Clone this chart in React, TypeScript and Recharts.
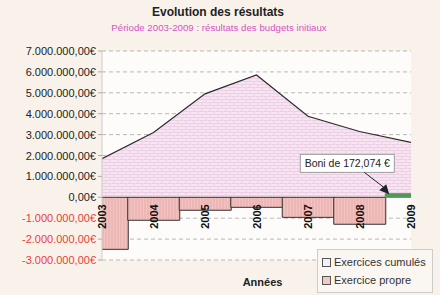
import {
  ComposedChart,
  Area,
  Bar,
  Cell,
  XAxis,
  YAxis,
  CartesianGrid,
  Legend,
  LabelList,
} from 'recharts';

const YEARS = [2003, 2004, 2005, 2006, 2007, 2008, 2009];
const CUMULES = [1850000, 3100000, 4950000, 5850000, 3880000, 3150000, 2630000];
const PROPRE = [-2490000, -1100000, -620000, -480000, -960000, -1290000, 172074];
const Y_TICKS = [-3000000, -2000000, -1000000, 0, 1000000, 2000000, 3000000, 4000000, 5000000, 6000000, 7000000];

const data = YEARS.map((year, i) => ({ year, cumules: CUMULES[i], propre: PROPRE[i] }));

const FONT = '"Liberation Sans", Arial, sans-serif';

function euro(v: number) {
  const s = Math.abs(Math.round(v)).toString().replace(/\B(?=(\d{3})+(?!\d))/g, '.');
  return (v < 0 ? '-' : '') + s + ',00€';
}

function YTick({ x, y, payload }: any) {
  const v = payload.value;
  return (
    <text x={x} y={y} dy={4} textAnchor="end" fontSize={11} fontFamily={FONT} fill={v < 0 ? '#ee3b3b' : '#222'}>
      {euro(v)}
    </text>
  );
}

function YearLabel(props: any) {
  const vb = props.viewBox || props;
  const cx = vb.x + vb.width / 2;
  const zero = vb.y + vb.height;
  return (
    <text
      transform={`translate(${cx + 4}, ${zero + 7}) rotate(-90)`}
      textAnchor="end"
      fontSize={11}
      fontWeight="bold"
      fontFamily={FONT}
      fill="#111"
    >
      {props.value}
    </text>
  );
}

function BoniLabel(props: any) {
  if (!(props.value > 0)) return null;
  const vb = props.viewBox || props;
  const zero = vb.y + vb.height;
  const bx = vb.x - 85;
  const by = zero - 43;
  return (
    <g>
      <rect x={bx} y={by} width={94} height={18} fill="#fff" stroke="#888" strokeWidth={0.8} />
      <text x={bx + 47} y={by + 13} textAnchor="middle" fontSize={10.5} fontFamily={FONT} fill="#222">
        Boni de 172,074 €
      </text>
      <line x1={bx + 64} y1={by + 18} x2={vb.x + 1} y2={zero - 8} stroke="#223" strokeWidth={1} />
      <polygon
        points={`${vb.x + 4},${zero - 3} ${vb.x - 6},${zero - 7} ${vb.x + 1},${zero - 13}`}
        fill="#1d2230"
      />
    </g>
  );
}

function LegendBox() {
  const items = [
    { label: 'Exercices cumulés', fill: '#f6eef6' },
    { label: 'Exercice propre', fill: '#f3c6c8' },
  ];
  return (
    <div
      style={{
        border: '1px solid #ccc',
        background: '#faf6f1',
        padding: '3px 6px 3px 4px',
        fontFamily: FONT,
        fontSize: 11,
        color: '#333',
      }}
    >
      {items.map((it) => (
        <div key={it.label} style={{ display: 'flex', alignItems: 'center', height: 18 }}>
          <span
            style={{
              display: 'inline-block',
              width: 7,
              height: 7,
              border: '1px solid #555',
              background: it.fill,
              marginRight: 3,
            }}
          />
          {it.label}
        </div>
      ))}
    </div>
  );
}

export default function App() {
  return (
    <div
      style={{
        position: 'fixed',
        left: 0,
        top: 0,
        width: 440,
        height: 295,
        background: '#f8f2ea',
        fontFamily: FONT,
      }}
    >
      <div
        style={{
          position: 'absolute',
          top: 5,
          left: 0,
          width: 436,
          textAlign: 'center',
          fontSize: 12,
          fontWeight: 'bold',
          color: '#222',
        }}
      >
        Evolution des résultats
      </div>
      <div
        style={{
          position: 'absolute',
          top: 22,
          left: 0,
          width: 438,
          textAlign: 'center',
          fontSize: 9.7,
          color: '#d455c2',
        }}
      >
        Période 2003-2009 : résultats des budgets initiaux
      </div>
      <ComposedChart
        width={440}
        height={295}
        data={data}
        margin={{ top: 51, right: 29, bottom: 0, left: 0 }}
        barCategoryGap={0}
        barGap={0}
      >
        <defs>
          <pattern id="brick" width="8" height="6" patternUnits="userSpaceOnUse">
            <rect width="8" height="6" fill="#f6e6f2" />
            <path d="M0 0.5H8 M0 3.5H8 M2 0.5V3.5 M6 3.5V6" stroke="#ebbfdc" strokeWidth="0.6" fill="none" />
          </pattern>
          <pattern id="stripes" width="3" height="4" patternUnits="userSpaceOnUse">
            <rect width="3" height="4" fill="#f2c2c0" />
            <path d="M1 0V4" stroke="#e09c9e" strokeWidth="0.6" />
          </pattern>
        </defs>
        <CartesianGrid fill="#fdfcfa" stroke="#b8b8b8" strokeDasharray="4 3" vertical={false} />
        <XAxis
          dataKey="year"
          type="number"
          domain={[2003, 2009]}
          ticks={YEARS}
          interval={0}
          allowDataOverflow
          tick={false}
          axisLine={false}
          tickLine={false}
          height={35}
          label={{
            value: 'Années',
            position: 'insideBottom',
            offset: 9,
            dx: 6,
            fontSize: 11,
            fontWeight: 'bold',
            fill: '#222',
            fontFamily: FONT,
          }}
        />
        <YAxis
          type="number"
          domain={[-3000000, 7000000]}
          ticks={Y_TICKS}
          interval={0}
          allowDataOverflow
          width={102}
          tick={<YTick />}
          tickLine={{ stroke: '#aaa' }}
          tickSize={4}
          axisLine={{ stroke: '#ccc' }}
        />
        <Area
          type="linear"
          dataKey="cumules"
          name="Exercices cumulés"
          stroke="#2b2b2b"
          strokeWidth={1.2}
          fill="url(#brick)"
          fillOpacity={1}
          isAnimationActive={false}
        />
        <Bar dataKey="propre" name="Exercice propre" stroke="#333" strokeWidth={1} isAnimationActive={false}>
          {data.map((d) => (
            <Cell key={d.year} fill={d.propre > 0 ? '#4d9a55' : 'url(#stripes)'} stroke={d.propre > 0 ? '#4d9a55' : '#333'} />
          ))}
          <LabelList dataKey="year" content={<YearLabel />} />
          <LabelList dataKey="propre" content={<BoniLabel />} />
        </Bar>
        <Legend
          layout="vertical"
          align="center"
          verticalAlign="middle"
          wrapperStyle={{ left: 317, top: 249, width: 'auto' }}
          content={<LegendBox />}
        />
      </ComposedChart>
    </div>
  );
}
